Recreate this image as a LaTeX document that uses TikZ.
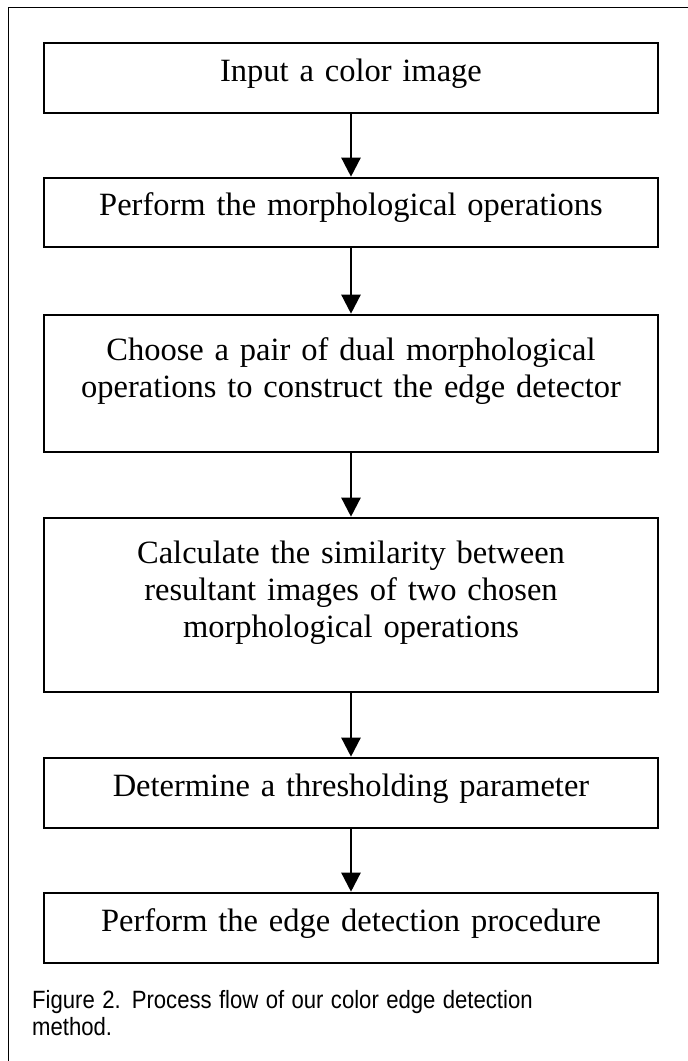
\documentclass[tikz,border=0pt]{standalone}
\usepackage{fontspec}
\usepackage{graphicx}
\setmainfont{Liberation Serif}
\newfontfamily\capfont{Liberation Sans}
\usetikzlibrary{arrows.meta}

\begin{document}
\begin{tikzpicture}[x=1pt,y=-1pt,
  stepbox/.style={draw,line width=2.6pt,minimum width=614pt,text width=590pt,
    align=center,inner xsep=0pt,inner ysep=0pt,
    font=\fontsize{32.5}{37}\selectfont,text height=22pt},
  flow/.style={line width=2.4pt,-{Triangle[length=19pt,width=19pt]}}]
\useasboundingbox (0,0) rectangle (688,1061);
% open frame
\draw[line width=1.5pt] (8.5,1061) -- (8.5,7.5) -- (688,7.5);
% steps
\node[stepbox,minimum height=70pt,text depth=16pt] (in) at (351,78) {Input a color image};
\node[stepbox,minimum height=69pt,text depth=16pt] (morph) at (351,212.5) {Perform the morphological operations};
\node[stepbox,minimum height=137pt,text depth=69pt] (pair) at (351,383.5)
  {Choose a pair of dual morphological\\operations to construct the edge detector};
\node[stepbox,minimum height=174pt,text depth=106pt] (simil) at (351,605)
  {Calculate the similarity between\\resultant images of two chosen\\morphological operations};
\node[stepbox,minimum height=70pt,text depth=16pt] (thresh) at (351,793) {Determine a thresholding parameter};
\node[stepbox,minimum height=70pt,text depth=16pt] (detect) at (351,928) {Perform the edge detection procedure};
\draw[flow] (in) -- (morph);
\draw[flow] (morph) -- (pair);
\draw[flow] (pair) -- (simil);
\draw[flow] (simil) -- (thresh);
\draw[flow] (thresh) -- (detect);
% caption
\node[anchor=base west,text width=640pt,align=left,inner sep=0pt,
  font=\capfont\fontsize{25}{27}\selectfont] (cap) at (32,1008)
  {\scalebox{0.885}[1]{Figure 2. Process flow of our color edge detection}\\
   \scalebox{0.885}[1]{method.}};
\end{tikzpicture}
\end{document}
